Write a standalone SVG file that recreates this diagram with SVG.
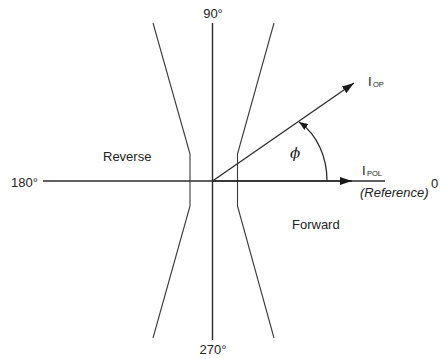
<svg xmlns="http://www.w3.org/2000/svg" width="440" height="359" viewBox="0 0 440 359">
<style>
.ax{stroke:#2b2b2b;stroke-width:1.4;fill:none}
.hg{stroke:#3a3a3a;stroke-width:1.1;fill:none;stroke-linejoin:round}
.vec{stroke:#2b2b2b;stroke-width:1.3;fill:none}
.t{font-family:"Liberation Sans",Arial,sans-serif;font-size:13px;fill:#222}
.ti{font-family:"Liberation Sans",Arial,sans-serif;font-size:13px;font-style:italic;fill:#222}
.sub{font-family:"Liberation Sans",Arial,sans-serif;font-size:7.5px;fill:#222}
.phi{font-family:"DejaVu Serif","Liberation Serif",serif;font-size:15px;font-style:italic;fill:#222}
</style>
<defs>
<marker id="ah" viewBox="0 0 12 8" refX="12" refY="4" markerWidth="12" markerHeight="8" orient="auto" markerUnits="userSpaceOnUse">
<path d="M0,0 L12,4 L0,8 z" fill="#1a1a1a"/>
</marker>
<marker id="ahs" viewBox="0 0 9 7" refX="9" refY="3.5" markerWidth="9" markerHeight="7" orient="auto" markerUnits="userSpaceOnUse">
<path d="M0,0 L9,3.5 L0,7 z" fill="#1a1a1a"/>
</marker>
</defs>
<g id="axes">
<line class="ax" x1="212.5" y1="23" x2="212.5" y2="340"/>
<line class="ax" x1="43" y1="181" x2="385" y2="181"/>
</g>
<g id="boundary-left">
<path class="hg" d="M153,23 L190,154 L190,206 L153,338"/>
</g>
<g id="boundary-right">
<path class="hg" d="M274,23 L237.5,154 L237.5,206 L274,338"/>
</g>
<g id="connectors">
<line class="vec" x1="212.5" y1="181" x2="354" y2="83" marker-end="url(#ah)"/>
<line class="vec" x1="212.5" y1="181" x2="352" y2="181" marker-end="url(#ah)"/>
<path class="vec" d="M327,181 C327,158 318,135 299,122" marker-end="url(#ahs)"/>
</g>
<g id="labels">
<text class="t" x="213" y="18" text-anchor="middle">90°</text>
<text class="t" x="213" y="354" text-anchor="middle">270°</text>
<text class="t" x="11" y="187">180°</text>
<text class="t" x="431" y="188">0</text>
<text class="t" x="103" y="161">Reverse</text>
<text class="t" x="292" y="229">Forward</text>
<text class="phi" x="290" y="158">ϕ</text>
<g id="iop"><text class="t" x="368" y="86">I</text><text class="sub" x="373" y="87">OP</text></g>
<g id="ipol"><text class="t" x="362" y="175">I</text><text class="sub" x="367" y="176">POL</text></g>
<text class="ti" x="360" y="197">(Reference)</text>
</g>
</svg>
